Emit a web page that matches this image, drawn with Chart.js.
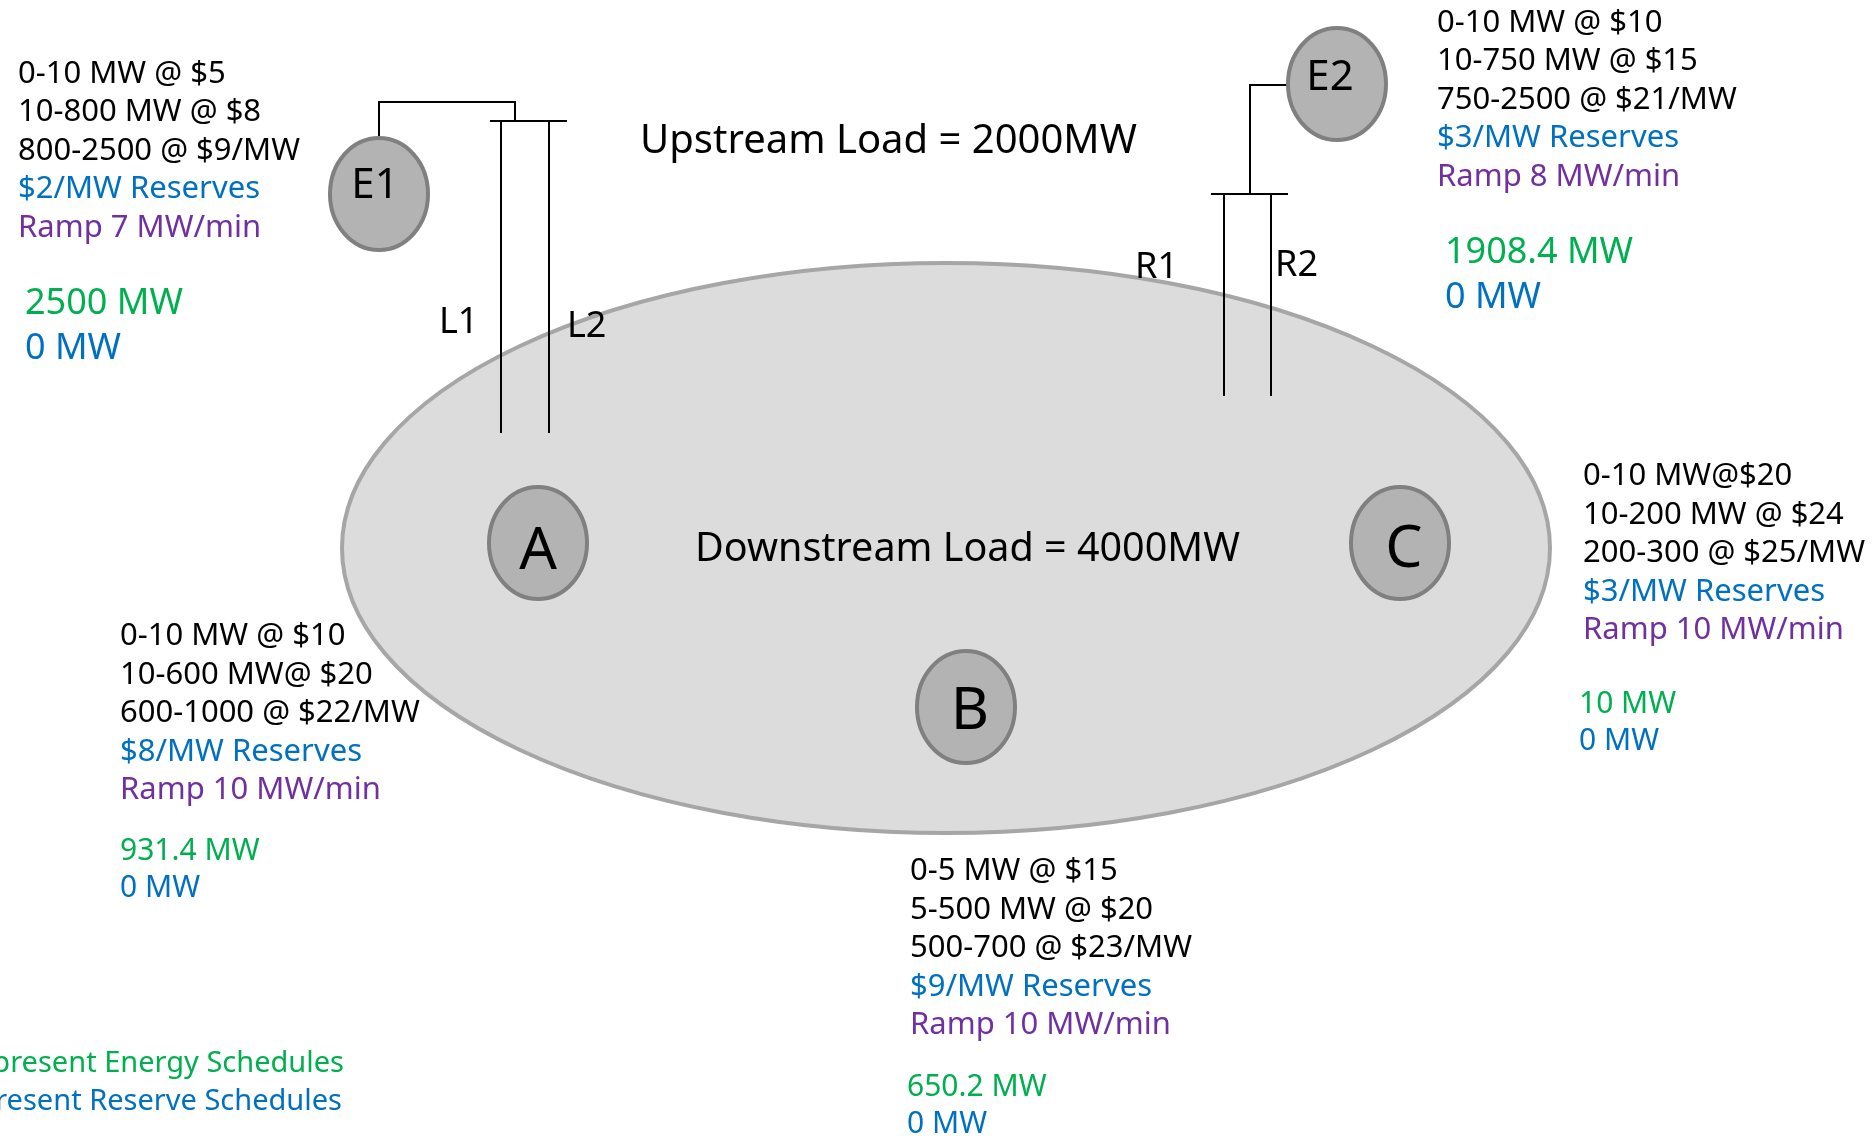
<!DOCTYPE html>
<html>
<head>
<meta charset="utf-8">
<script src="https://cdn.jsdelivr.net/npm/chart.js@4"></script>
<style>
html, body { margin: 0; padding: 0; background: #fff; overflow: hidden; }
canvas { display: block; }
</style>
</head>
<body>
<canvas id="diagram" width="1875" height="1136"></canvas>
<script>
// generator offers
const genNames = ['E1', 'E2', 'A', 'B', 'C'];
const offer1 = ['0-10 MW @ $5', '0-10 MW @ $10', '0-10 MW @ $10', '0-5 MW @ $15', '0-10 MW@$20'];
const offer2 = ['10-800 MW @ $8', '10-750 MW @ $15', '10-600 MW@ $20', '5-500 MW @ $20', '10-200 MW @ $24'];
const offer3 = ['800-2500 @ $9/MW', '750-2500 @ $21/MW', '600-1000 @ $22/MW', '500-700 @ $23/MW', '200-300 @ $25/MW'];
const reservePrice = [2, 3, 8, 9, 3];
const rampRate = [7, 8, 10, 10, 10];
const energySched = [2500, 1908.4, 931.4, 650.2, 10];
const reserveSched = [0, 0, 0, 0, 0];

const upstreamLoad = 2000;
const downstreamLoad = 4000;
const lineNames = ['L1', 'L2', 'R1', 'R2'];
const legendLines = ['represent Energy Schedules', 'represent Reserve Schedules'];

// layout (diagram pixels)
const nodeX = [379, 1337, 538, 966, 1400];
const nodeY = [194, 84, 543, 707, 543];
const labelX = [375, 1330, 538, 970, 1404];
const labelY = [183, 75, 548, 708, 546];
const labelSize = [42, 42, 59, 59, 59];
const blockX = [18, 1437, 120, 910, 1583];
const blockY = [71.5, 20.5, 634, 869, 474];
const schedX = [25, 1445, 120, 907, 1579];
const schedY = [301, 250, 849, 1085, 702];
const schedSize = [36, 36, 30, 30, 30];
const schedGap = [45, 45, 37, 37, 37];
const lineLabelX = [439, 567, 1135, 1275];
const lineLabelY = [320, 324, 265, 263];

const wireE1 = [[379, 138], [379, 102], [515, 102], [515, 121]];
const busLeft = [[490, 121], [567, 121]];
const lineL1 = [[501, 121], [501, 433]];
const lineL2 = [[549, 121], [549, 433]];
const wireE2 = [[1288, 85], [1250, 85], [1250, 194]];
const busRight = [[1211, 194], [1288, 194]];
const lineR1 = [[1224, 194], [1224, 396]];
const lineR2 = [[1271, 194], [1271, 396]];

const BLACK = '#000000';
const BLUE = '#0070C0';
const PURPLE = '#7030A0';
const GREEN = '#00B050';
const FONT = '"Noto Sans", sans-serif';

function wire(points) {
    return {
        data: points.map(p => ({ x: p[0], y: p[1] })),
        showLine: true,
        borderColor: '#000',
        borderWidth: 2,
        pointRadius: 0,
        tension: 0
    };
}

function ellipse(ctx, xs, ys, cx, cy, rx, ry, fill, stroke, width) {
    const px = xs.getPixelForValue(cx);
    const py = ys.getPixelForValue(cy);
    const prx = Math.abs(xs.getPixelForValue(cx + rx) - px);
    const pry = Math.abs(ys.getPixelForValue(cy + ry) - py);
    ctx.beginPath();
    ctx.ellipse(px, py, prx, pry, 0, 0, Math.PI * 2);
    ctx.fillStyle = fill;
    ctx.fill();
    ctx.lineWidth = width;
    ctx.strokeStyle = stroke;
    ctx.stroke();
}

// text centred on cap height
function text(ctx, xs, ys, str, vx, vy, size, color, align) {
    ctx.font = size + 'px ' + FONT;
    ctx.fillStyle = color;
    ctx.textAlign = align || 'left';
    ctx.textBaseline = 'alphabetic';
    ctx.fillText(str, xs.getPixelForValue(vx), ys.getPixelForValue(vy) + size * 0.357);
}

const diagramPlugin = {
    id: 'diagram',
    beforeDatasetsDraw(chart) {
        const { ctx, scales: { x, y } } = chart;
        ctx.save();
        ellipse(ctx, x, y, 946, 548, 604, 285, '#dcdcdc', '#a6a6a6', 4);
        ctx.restore();
    },
    afterDatasetsDraw(chart) {
        const { ctx, scales: { x, y } } = chart;
        ctx.save();

        // nodes
        for (let i = 0; i < genNames.length; i++) {
            ellipse(ctx, x, y, nodeX[i], nodeY[i], 49, 56, '#b3b3b3', '#808080', 4);
            text(ctx, x, y, genNames[i], labelX[i], labelY[i], labelSize[i], BLACK, 'center');
        }

        // offer blocks
        for (let i = 0; i < genNames.length; i++) {
            const rows = [
                [offer1[i], BLACK],
                [offer2[i], BLACK],
                [offer3[i], BLACK],
                ['$' + reservePrice[i] + '/MW Reserves', BLUE],
                ['Ramp ' + rampRate[i] + ' MW/min', PURPLE]
            ];
            rows.forEach((r, k) => {
                text(ctx, x, y, r[0], blockX[i], blockY[i] + k * 38.5, 31, r[1]);
            });
            text(ctx, x, y, energySched[i] + ' MW', schedX[i], schedY[i], schedSize[i], GREEN);
            text(ctx, x, y, reserveSched[i] + ' MW', schedX[i], schedY[i] + schedGap[i], schedSize[i], BLUE);
        }

        // line names
        lineNames.forEach((n, i) => text(ctx, x, y, n, lineLabelX[i], lineLabelY[i], 36, BLACK));

        text(ctx, x, y, 'Upstream Load = ' + upstreamLoad + 'MW', 640, 139, 40, BLACK);
        text(ctx, x, y, 'Downstream Load = ' + downstreamLoad + 'MW', 695, 547, 39.5, BLACK);

        text(ctx, x, y, legendLines[0], 344, 1062, 29, GREEN, 'right');
        text(ctx, x, y, legendLines[1], 342, 1100, 29, BLUE, 'right');

        ctx.restore();
    }
};

new Chart(document.getElementById('diagram'), {
    type: 'scatter',
    data: {
        datasets: [wireE1, busLeft, lineL1, lineL2, wireE2, busRight, lineR1, lineR2].map(wire)
    },
    options: {
        responsive: false,
        animation: false,
        layout: { padding: 0 },
        scales: {
            x: { type: 'linear', min: 0, max: 1875, display: false },
            y: { type: 'linear', min: 0, max: 1136, reverse: true, display: false }
        },
        plugins: {
            legend: { display: false },
            tooltip: { enabled: false }
        }
    },
    plugins: [diagramPlugin]
});
</script>
</body>
</html>
